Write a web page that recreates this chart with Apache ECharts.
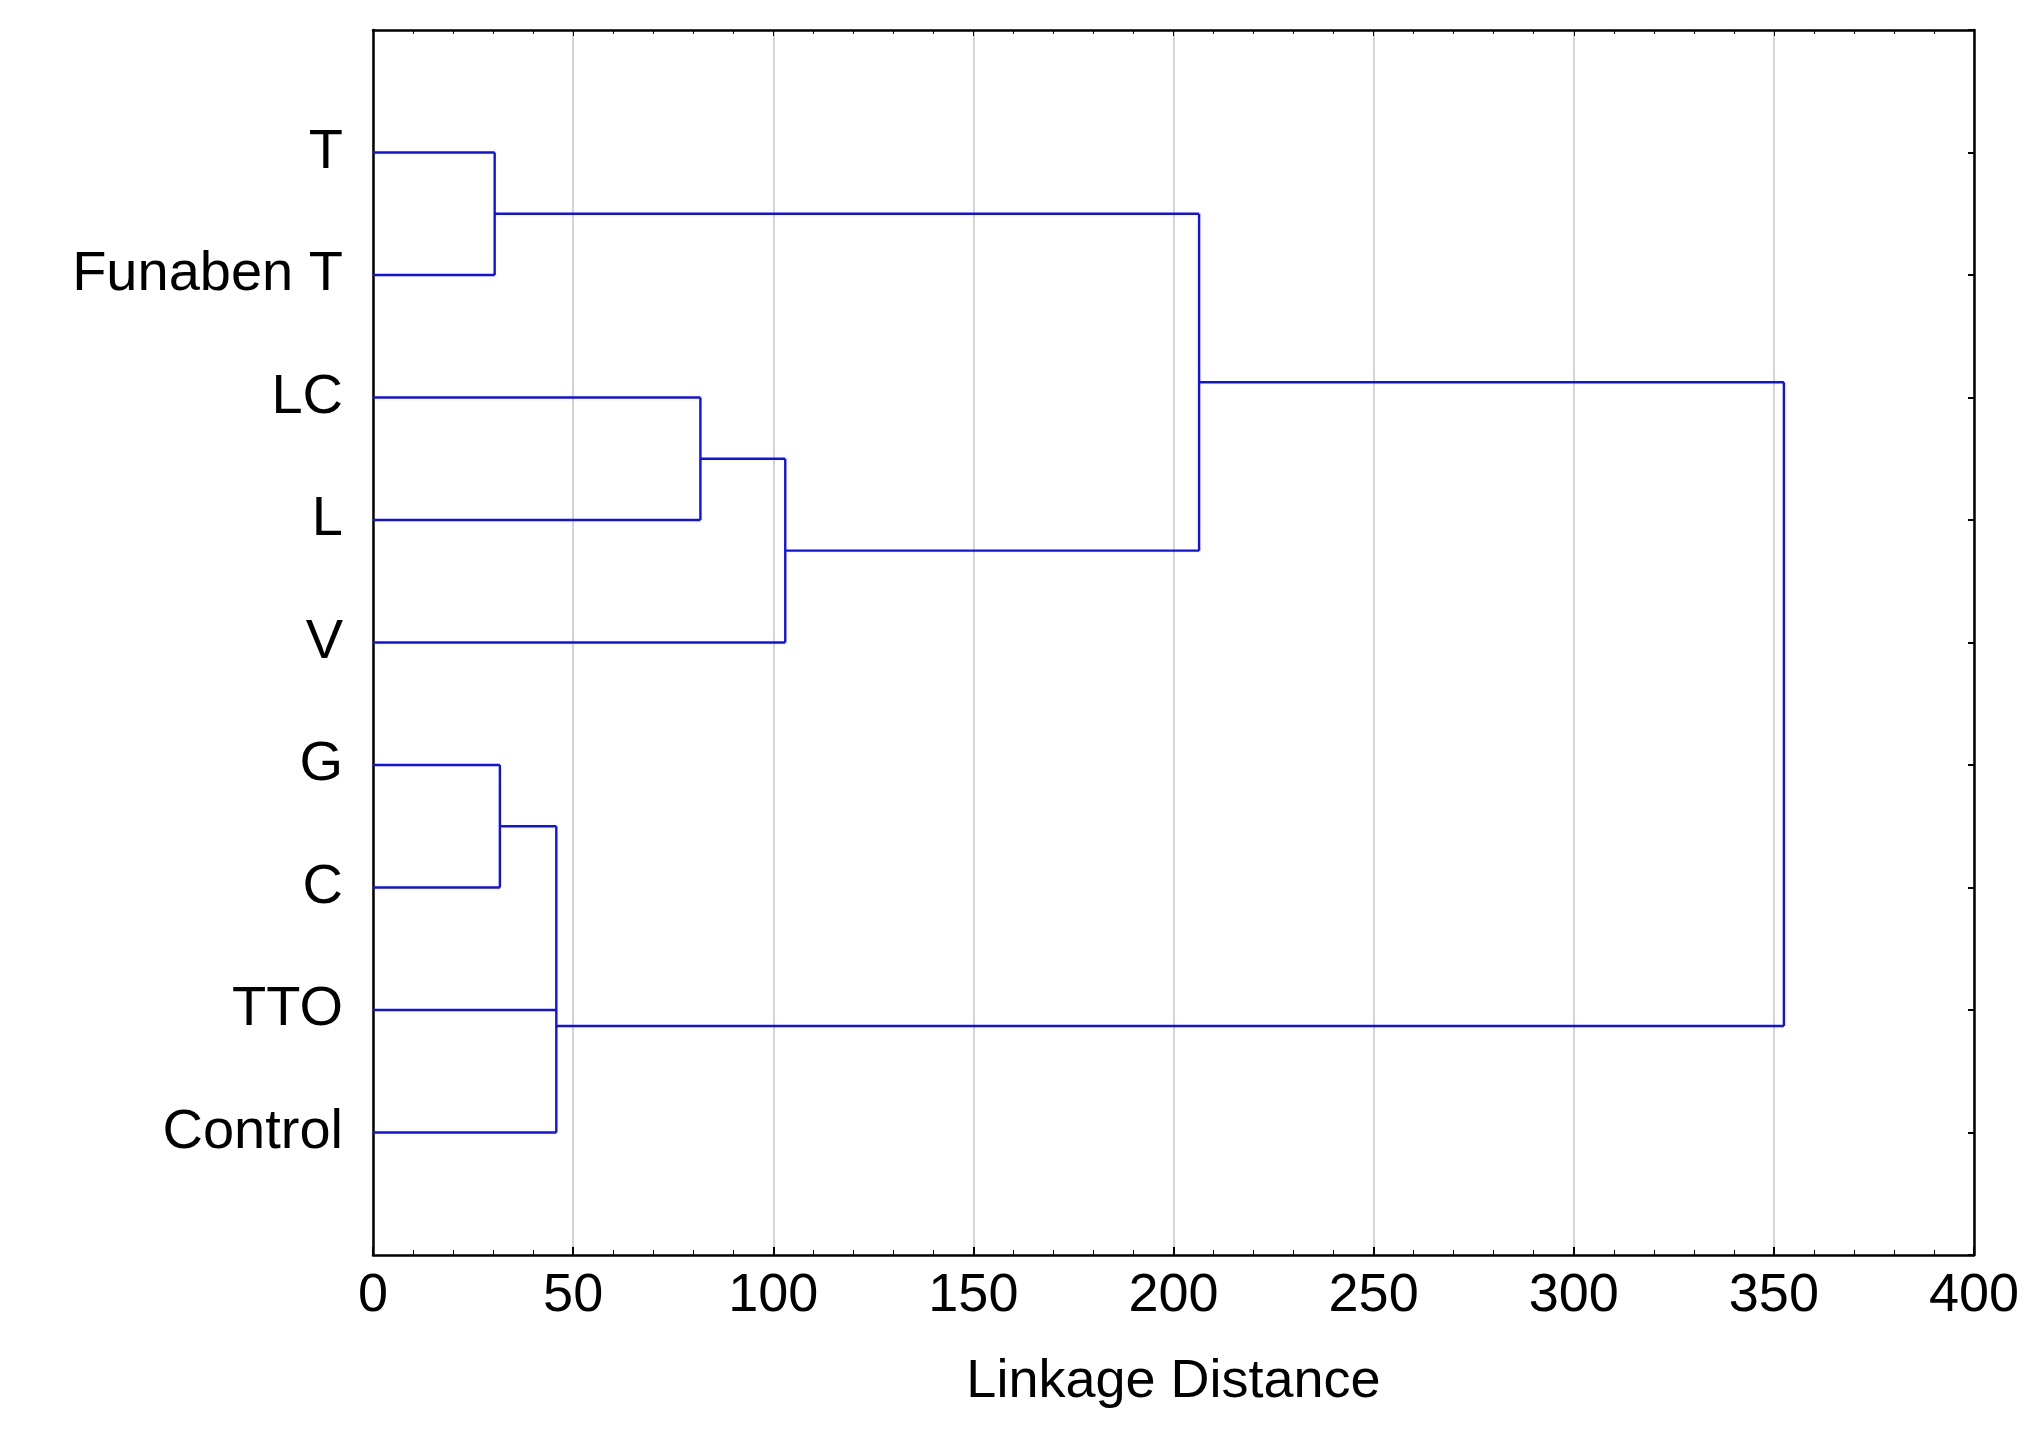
<!DOCTYPE html>
<html><head><meta charset="utf-8">
<script src="https://cdn.jsdelivr.net/npm/echarts@6/dist/echarts.min.js"></script>
<style>html,body{margin:0;background:#fff}#c{width:2042px;height:1432px}</style>
</head><body><div id="c"></div>
<script>
const leaves = ['T','Funaben T','LC','L','V','G','C','TTO','Control'];
const xTicks = [0,50,100,150,200,250,300,350,400];
// segments in data units: [x1, y1, x2, y2] (y = leaf slot, 1..9)
const segments = [
  [0,1,30.4,1],[0,2,30.4,2],[30.4,1,30.4,2],
  [0,3,81.8,3],[0,4,81.8,4],[81.8,3,81.8,4],
  [81.8,3.5,103,3.5],[0,5,103,5],[103,3.5,103,5],
  [30.4,1.5,206.4,1.5],[103,4.25,206.4,4.25],[206.4,1.5,206.4,4.25],
  [0,6,31.7,6],[0,7,31.7,7],[31.7,6,31.7,7],
  [31.7,6.5,45.8,6.5],[0,8,45.8,8],[0,9,45.8,9],[45.8,6.5,45.8,9],
  [206.4,2.875,352.5,2.875],[45.8,8.13,352.5,8.13],[352.5,2.875,352.5,8.13]
];
const font = 'Liberation Sans, Arial, sans-serif';
const series = segments.map(s => ({
  type:'line', data:[[s[0],s[1]],[s[2],s[3]]], symbol:'none', silent:true,
  lineStyle:{color:'#1010ee', width:2.4}, animation:false
}));
const chart = echarts.init(document.getElementById('c'));
chart.setOption({
  animation:false,
  grid:{left:373,right:68,top:30,bottom:177},
  xAxis:[{type:'value',min:0,max:400,interval:50,position:'bottom',
    name:'Linkage Distance',nameLocation:'middle',nameGap:100,
    nameTextStyle:{fontFamily:font,fontSize:54,color:'#000'},
    axisLine:{onZero:false,lineStyle:{color:'#000',width:2.5}},
    axisTick:{inside:true,length:8,lineStyle:{color:'#000',width:2}},
    minorTick:{show:true,splitNumber:5,length:5,lineStyle:{color:'#000'}},
    axisLabel:{fontFamily:font,fontSize:54,color:'#000',margin:14,
      formatter:v=>xTicks.includes(v)?String(v):''},
    splitLine:{show:true,lineStyle:{color:'#d4d4d4',width:2}}},
   {type:'value',position:'top',min:0,max:400,interval:50,
    axisLine:{show:true,onZero:false,lineStyle:{color:'#000',width:2.5}},
    axisTick:{inside:true,length:6,lineStyle:{color:'#000'}},
    minorTick:{show:true,splitNumber:5,length:4,lineStyle:{color:'#000'}},
    axisLabel:{show:false},splitLine:{show:false}}],
  yAxis:[{type:'value',inverse:true,min:0,max:10,interval:1,position:'left',
    axisLine:{onZero:false,lineStyle:{color:'#000',width:2.5}},
    axisTick:{show:false},
    axisLabel:{fontFamily:font,fontSize:56,color:'#000',margin:30,
      formatter:v=>(v>=1&&v<=9)?leaves[v-1]:''},
    splitLine:{show:false}},
   {type:'value',inverse:true,min:0,max:10,interval:1,position:'right',
    axisLine:{show:true,onZero:false,lineStyle:{color:'#000',width:2.5}},
    axisTick:{inside:true,length:6,lineStyle:{color:'#000',width:2}},
    axisLabel:{show:false},splitLine:{show:false}}],
  series
});
</script></body></html>
